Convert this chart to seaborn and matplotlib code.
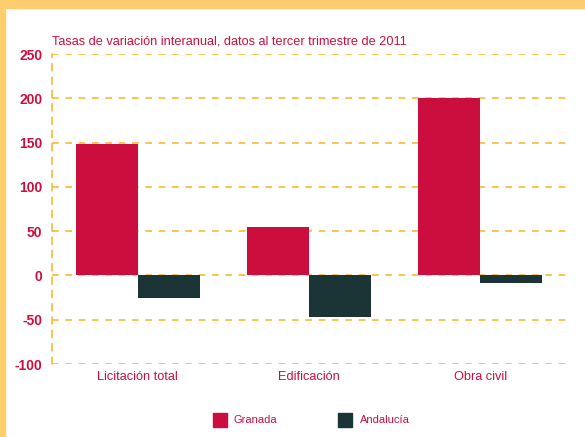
import matplotlib
matplotlib.use("Agg")
import matplotlib.pyplot as plt
import seaborn as sns
import pandas as pd
from matplotlib.patches import Rectangle

categories = ["Licitación total", "Edificación", "Obra civil"]
granada = [148, 55, 200]
andalucia = [-26, -47, -9]
series = ["Granada", "Andalucía"]
yticks = [-100, -50, 0, 50, 100, 150, 200, 250]
title = "Tasas de variación interanual, datos al tercer trimestre de 2011"

RED = "#CC0E3F"
DARK = "#1B3536"
GRID = "#F9B93A"
BORDER = "#FFCC6E"

df = pd.DataFrame({
    "cat": categories * 2,
    "serie": [series[0]] * 3 + [series[1]] * 3,
    "val": granada + andalucia,
})

sns.set_theme(style="white")
plt.rcParams['font.family'] = ['Liberation Sans', 'DejaVu Sans']

fig = plt.figure(figsize=(5.85, 4.37), dpi=100)
ax = fig.add_axes([52/585, 1 - 364/437, (566 - 52)/585, 310/437])

sns.barplot(data=df, x="cat", y="val", hue="serie", order=categories,
            hue_order=series, palette=[RED, DARK], width=0.725,
            saturation=1, ax=ax, legend=False, linewidth=0, zorder=3)

ax.set_xlim(-0.5, 2.5)
ax.set_ylim(-100, 250)
ax.set_yticks(yticks)
ax.set_yticklabels([str(v) for v in yticks], color=RED, fontweight="bold", fontsize=10)
ax.tick_params(axis="y", length=0, pad=7)
ax.tick_params(axis="x", length=0, pad=5, labelsize=9.2, labelcolor=RED)
ax.set_xlabel("")
ax.set_ylabel("")
for s in ["top", "right", "bottom"]:
    ax.spines[s].set_visible(False)
ax.spines["left"].set_linestyle((0, (4, 4)))
ax.spines["left"].set_color(GRID)
ax.spines["left"].set_linewidth(1.2)
for v in yticks:
    ax.axhline(v, color=GRID, lw=1.2, ls=(0, (4, 4)), zorder=1)

fig.text(52/585, 1 - 41/437, title, color=RED, fontsize=9.2, va="center", ha="left")

# legend
fig.patches.append(Rectangle((213/585, 1 - 427/437), 14/585, 14/437,
                             transform=fig.transFigure, color=RED, figure=fig))
fig.text(234/585, 1 - 420/437, series[0], color=RED, fontsize=8, va="center")
fig.patches.append(Rectangle((338/585, 1 - 427/437), 14/585, 14/437,
                             transform=fig.transFigure, color=DARK, figure=fig))
fig.text(360/585, 1 - 420/437, series[1], color=RED, fontsize=8, va="center")

# border
fig.patches.append(Rectangle((0, 1 - 8/437), 1, 8/437, transform=fig.transFigure,
                             color=BORDER, figure=fig))
fig.patches.append(Rectangle((0, 0), 5/585, 1, transform=fig.transFigure,
                             color=BORDER, figure=fig))

fig.savefig("out.png", dpi=100)
